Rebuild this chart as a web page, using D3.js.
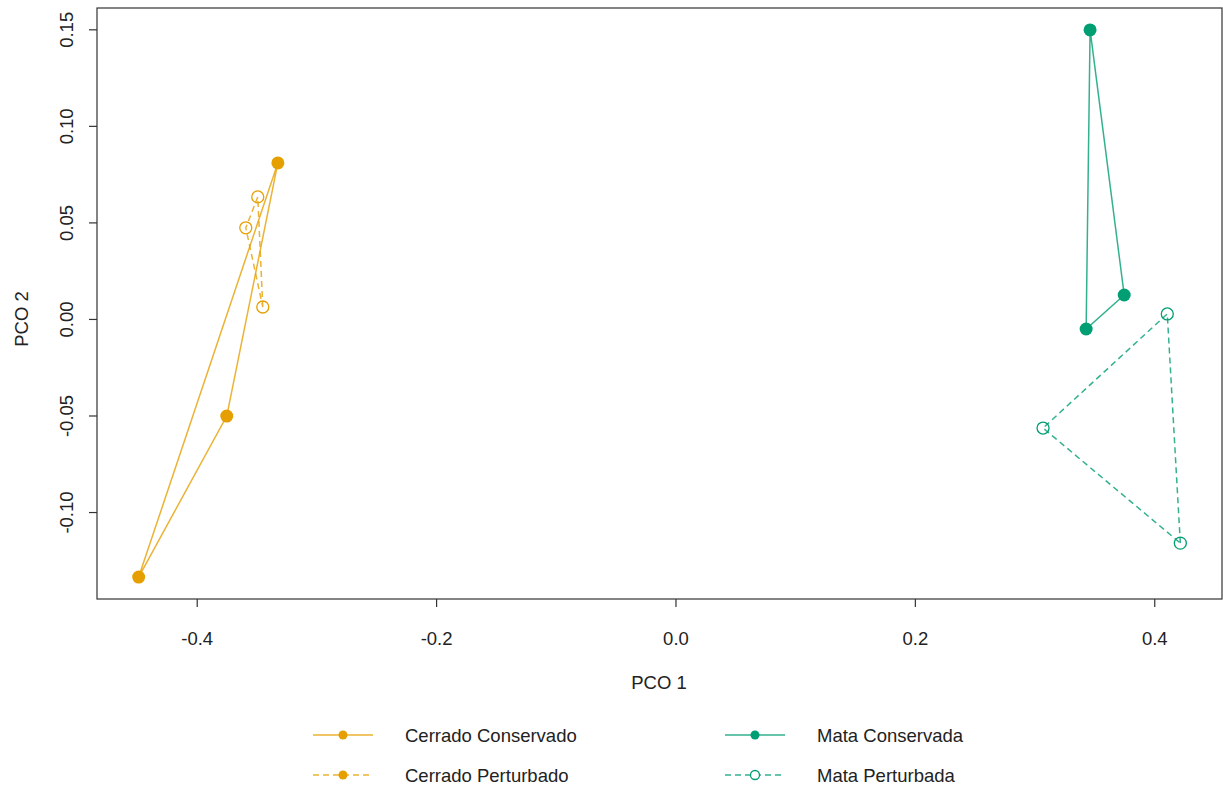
<!DOCTYPE html>
<html>
<head>
<meta charset="utf-8">
<script src="https://cdn.jsdelivr.net/npm/d3@7"></script>
<style>
  html, body { margin: 0; padding: 0; background: #fff; }
  svg text { font-family: "Liberation Sans", Arial, Helvetica, sans-serif; fill: #222; }
</style>
</head>
<body>
<svg id="chart" width="1223" height="793"></svg>
<script>
// PCoA scores per site, grouped by vegetation type and condition
const cerradoConservadoX = [-0.3322, -0.3749, -0.4485];
const cerradoConservadoY = [0.0808, -0.0503, -0.1337];
const cerradoPerturbadoX = [-0.3490, -0.3590, -0.3448];
const cerradoPerturbadoY = [0.0632, 0.0472, 0.0062];
const mataConservadaX = [0.3464, 0.3749, 0.3431];
const mataConservadaY = [0.1497, 0.0124, -0.0052];
const mataPerturbadaX = [0.4109, 0.3071, 0.4218];
const mataPerturbadaY = [0.0026, -0.0565, -0.1161];

const groupNames = ["Cerrado Conservado", "Cerrado Perturbado", "Mata Conservada", "Mata Perturbada"];
const xTicks = [-0.4, -0.2, 0.0, 0.2, 0.4];
const yTicks = [-0.10, -0.05, 0.00, 0.05, 0.10, 0.15];

const orange = "#E69F00", green = "#009E73";
const FS = 18.5;
const groups = [
  { name: groupNames[0], xs: cerradoConservadoX, ys: cerradoConservadoY, color: orange, dashed: false, filled: true, legendFilled: true },
  { name: groupNames[1], xs: cerradoPerturbadoX, ys: cerradoPerturbadoY, color: orange, dashed: true, filled: false, legendFilled: true },
  { name: groupNames[2], xs: mataConservadaX, ys: mataConservadaY, color: green, dashed: false, filled: true, legendFilled: true },
  { name: groupNames[3], xs: mataPerturbadaX, ys: mataPerturbadaY, color: green, dashed: true, filled: false, legendFilled: false }
];

const svg = d3.select("#chart");
const plot = { left: 97, right: 1222, top: 8, bottom: 599 };

// Axis limits padded by 4% of the data range on each side
const allX = groups.flatMap(g => g.xs), allY = groups.flatMap(g => g.ys);
const [x0, x1] = d3.extent(allX), [y0, y1] = d3.extent(allY);
const px = (x1 - x0) * 0.04, py = (y1 - y0) * 0.04;
const x = d3.scaleLinear().domain([x0 - px, x1 + px]).range([plot.left, plot.right]);
const y = d3.scaleLinear().domain([y0 - py, y1 + py]).range([plot.bottom, plot.top]);

// Frame
svg.append("rect")
  .attr("x", plot.left).attr("y", plot.top)
  .attr("width", plot.right - plot.left).attr("height", plot.bottom - plot.top)
  .attr("fill", "none").attr("stroke", "#333").attr("stroke-width", 1.2);

// X axis
const xAxis = svg.append("g")
  .attr("transform", `translate(0,${plot.bottom})`)
  .call(d3.axisBottom(x).tickValues(xTicks).tickSize(8).tickPadding(25));
xAxis.select(".domain").remove();
xAxis.selectAll("line").attr("stroke", "#333").attr("stroke-width", 1.2);
xAxis.selectAll("text").attr("font-size", FS).style("font-family", "'Liberation Sans', Arial, sans-serif").attr("fill", "#222")
  .text(d => d3.format(".1f")(d).replace("−", "-"));

// Y axis with rotated labels
const yAxis = svg.append("g")
  .attr("transform", `translate(${plot.left},0)`)
  .call(d3.axisLeft(y).tickValues(yTicks).tickSize(8));
yAxis.select(".domain").remove();
yAxis.selectAll("line").attr("stroke", "#333").attr("stroke-width", 1.2);
yAxis.selectAll("text").remove();
yAxis.selectAll(".tick").append("text")
  .attr("transform", "translate(-24,0) rotate(-90)")
  .attr("text-anchor", "middle")
  .attr("font-size", FS)
  .text(d => d3.format(".2f")(d).replace("−", "-"));

// Axis titles
svg.append("text").attr("x", 659).attr("y", 689)
  .attr("text-anchor", "middle").attr("font-size", FS).text("PCO 1");
svg.append("text").attr("transform", `translate(28,319) rotate(-90)`)
  .attr("text-anchor", "middle").attr("font-size", FS).text("PCO 2");

// Convex hull outline and points for each group
groups.forEach(g => {
  const pts = g.xs.map((v, i) => [x(v), y(g.ys[i])]);
  const hull = d3.polygonHull(pts);
  svg.append("path")
    .attr("d", "M" + hull.map(p => p.join(",")).join("L") + "Z")
    .attr("fill", "none")
    .attr("stroke", g.color).attr("stroke-opacity", 0.8)
    .attr("stroke-width", 1.5)
    .attr("stroke-dasharray", g.dashed ? "6,4" : null);
  svg.append("g").selectAll("circle").data(pts).join("circle")
    .attr("cx", d => d[0]).attr("cy", d => d[1])
    .attr("r", g.filled ? 6.5 : 6)
    .attr("fill", g.filled ? g.color : "none")
    .attr("stroke", g.color).attr("stroke-width", g.filled ? 0 : 1.3);
});

// Legend
const legendPos = [[313, 735], [313, 775], [725, 735], [725, 775]];
groups.forEach((g, i) => {
  const [lx, ly] = legendPos[i];
  const lg = svg.append("g").attr("transform", `translate(${lx},${ly})`);
  lg.append("line").attr("x1", 0).attr("x2", 60).attr("y1", 0).attr("y2", 0)
    .attr("stroke", g.color).attr("stroke-opacity", 0.8).attr("stroke-width", 1.5)
    .attr("stroke-dasharray", g.dashed ? "6,4" : null);
  lg.append("circle").attr("cx", 30).attr("cy", 0).attr("r", 4.5)
    .attr("fill", g.legendFilled ? g.color : "#fff")
    .attr("stroke", g.color).attr("stroke-width", g.legendFilled ? 0 : 1.3);
  lg.append("text").attr("x", 92).attr("y", 7).attr("font-size", FS).text(g.name);
});
</script>
</body>
</html>
